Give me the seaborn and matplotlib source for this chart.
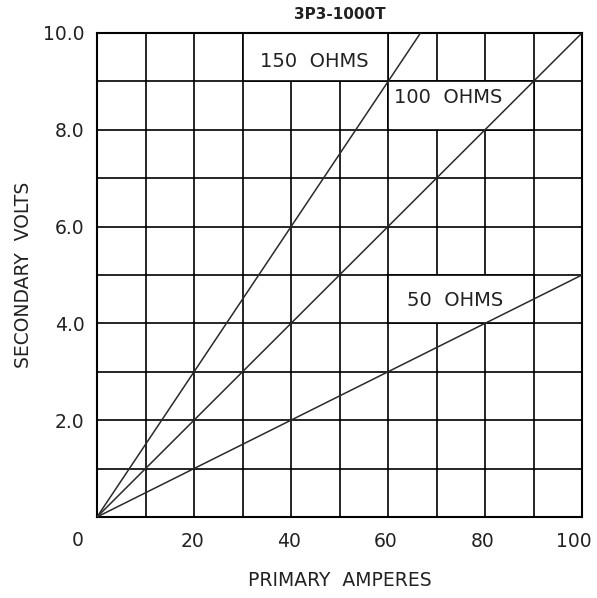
import matplotlib
matplotlib.use("Agg")
import matplotlib.pyplot as plt
from matplotlib.patches import Rectangle
import matplotlib.transforms as mtransforms
import seaborn as sns
import pandas as pd

# ---- data ----
amps_50 = [0, 100]
volts_50 = [0, 5.0]
amps_100 = [0, 100]
volts_100 = [0, 10.0]
amps_150 = [0, 66.7]
volts_150 = [0, 10.0]

series_labels = ["50  OHMS", "100  OHMS", "150  OHMS"]
label_pos_x = [73.8, 72.4, 44.7]
label_pos_y = [4.47, 8.67, 9.41]
# label boxes (x0, y0, width, height) in data units
label_boxes = [(60, 4, 30, 1), (60, 8, 30, 1), (30, 9, 30, 1)]

x_ticks = [20, 40, 60, 80, 100]
y_ticks = [2, 4, 6, 8, 10]
y_tick_labels = ["2.0", "4.0", "6.0", "8.0", "10.0"]

title = "3P3-1000T"
xlabel = "PRIMARY  AMPERES"
ylabel = "SECONDARY  VOLTS"

sns.set_theme(style="white")
plt.rcParams['font.family'] = ['DejaVu Sans']

fig = plt.figure(figsize=(5.97, 5.98), dpi=100)
ax = fig.add_axes([0.1625, 0.1355, 0.8125, 0.8095])

df = pd.concat([
    pd.DataFrame({"amps": amps_50, "volts": volts_50, "s": series_labels[0]}),
    pd.DataFrame({"amps": amps_100, "volts": volts_100, "s": series_labels[1]}),
    pd.DataFrame({"amps": amps_150, "volts": volts_150, "s": series_labels[2]}),
])
sns.lineplot(data=df, x="amps", y="volts", units="s", estimator=None,
             color="#2a2a2a", linewidth=1.1, ax=ax, zorder=3, legend=False)

ax.set_xlim(0, 100)
ax.set_ylim(0, 10)
ax.set_xticks(x_ticks)
ax.set_xticklabels([str(v) for v in x_ticks])
ax.set_yticks(y_ticks)
ax.set_yticklabels(y_tick_labels)
ax.set_xticks(range(0, 101, 10), minor=True)
ax.set_yticks(range(0, 11, 1), minor=True)
ax.set_axisbelow(True)
ax.grid(which="both", color="black", linewidth=1.2)
ax.tick_params(which="both", length=0)
ax.tick_params(axis="x", pad=11, labelsize=13.5, colors="#222222")
ax.tick_params(axis="y", pad=9, labelsize=13.5, colors="#222222")
# nudge the tick labels slightly left as in the reference
for lbl in ax.get_xticklabels():
    shift = -8 if lbl.get_text() == "100" else -2
    lbl.set_transform(lbl.get_transform() +
                      mtransforms.ScaledTranslation(shift / 100, 0, fig.dpi_scale_trans))
ax.text(-4, -0.48, "0", ha="center", va="center", fontsize=13.5, color="#222222")

for sp in ax.spines.values():
    sp.set_color("black")
    sp.set_linewidth(1.5)

for (x0, y0, w, h) in label_boxes:
    ax.add_patch(Rectangle((x0, y0), w, h, facecolor="white", edgecolor="black",
                           linewidth=1.2, zorder=1.5))
for lab, lx, ly in zip(series_labels, label_pos_x, label_pos_y):
    ax.text(lx, ly, lab, ha="center", va="center", fontsize=14, color="#222222", zorder=4)

ax.set_xlabel(xlabel, fontsize=13.5, color="#222222", labelpad=14)
ax.set_ylabel(ylabel, fontsize=13.5, color="#222222", labelpad=7)
fig.text(0.569, 0.975, title, ha="center", va="center", fontsize=11,
         fontweight="bold", color="#222222")

fig.savefig("out.png", dpi=100)
